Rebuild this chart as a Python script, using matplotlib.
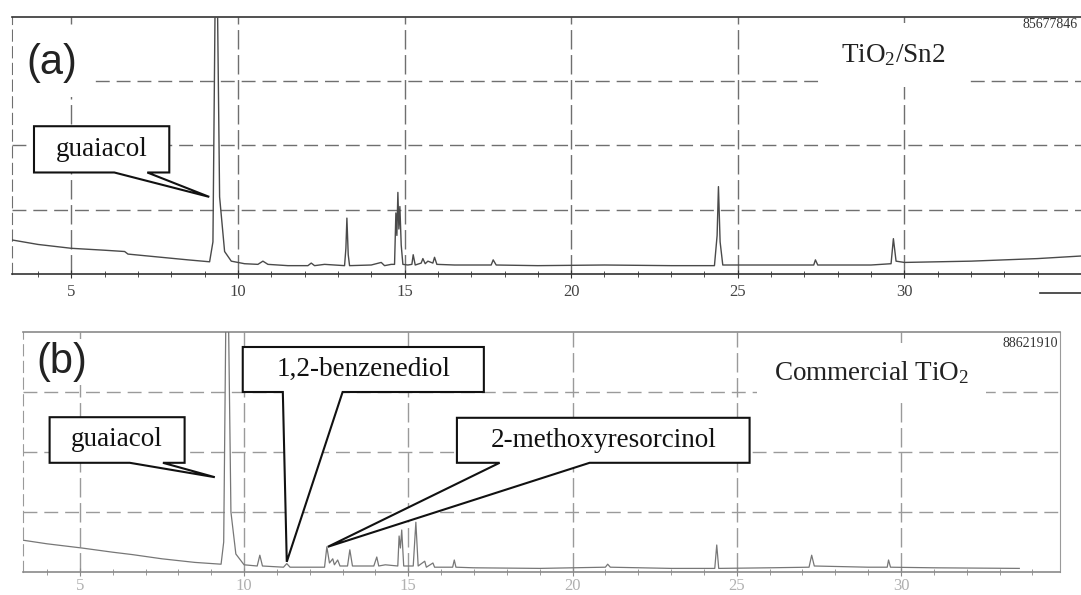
import matplotlib
matplotlib.use("Agg")
import matplotlib.pyplot as plt
from matplotlib.patches import Polygon
from matplotlib.lines import Line2D

plt.rcParams['font.family'] = ['Liberation Serif', 'DejaVu Serif']
plt.rcParams['mathtext.fontset'] = 'custom'
plt.rcParams['mathtext.rm'] = 'Liberation Serif'
plt.rcParams['mathtext.it'] = 'Liberation Serif:italic'

# retention time (min) / detector signal (arbitrary units)
time_a = [3.22, 4.0, 5.0, 6.0, 6.6, 6.7, 7.5, 8.5, 9.15, 9.25, 9.32, 9.38, 9.45, 9.6, 9.8,
          10.2, 10.6, 10.75, 10.9, 11.5, 12.1, 12.2, 12.3, 12.6, 13.2, 13.24, 13.27, 13.31,
          13.35, 14.0, 14.3, 14.4, 14.6, 14.7, 14.74, 14.77, 14.8, 14.83, 14.86, 14.9, 14.95,
          15.1, 15.22, 15.26, 15.32, 15.5, 15.55, 15.62, 15.7, 15.85, 15.9, 15.97, 16.5, 17.6,
          17.66, 17.75, 19.0, 21.0, 23.0, 24.3, 24.38, 24.42, 24.47, 24.55, 26.0, 27.28, 27.33,
          27.4, 29.0, 29.6, 29.67, 29.75, 30.0, 32.0, 34.0, 35.3]
signal_a = [0.53, 0.46, 0.40, 0.37, 0.35, 0.31, 0.27, 0.22, 0.19, 0.5, 4.5, 4.5, 1.2, 0.35, 0.2,
            0.16, 0.15, 0.2, 0.15, 0.13, 0.13, 0.17, 0.13, 0.15, 0.13, 0.4, 0.87, 0.3,
            0.13, 0.14, 0.18, 0.13, 0.15, 0.15, 0.95, 0.6, 1.27, 0.7, 1.05, 0.45, 0.15,
            0.14, 0.15, 0.3, 0.14, 0.17, 0.24, 0.16, 0.2, 0.17, 0.26, 0.15, 0.14, 0.14,
            0.22, 0.14, 0.13, 0.14, 0.13, 0.13, 0.6, 1.36, 0.5, 0.14, 0.14, 0.14, 0.22,
            0.14, 0.14, 0.16, 0.55, 0.2, 0.18, 0.2, 0.24, 0.28]

time_b = [3.27, 4.0, 5.06, 6.0, 6.6, 7.5, 8.5, 9.3, 9.38, 9.45, 9.52, 9.6, 9.75, 10.0, 10.4,
          10.48, 10.56, 11.2, 11.3, 11.4, 12.45, 12.52, 12.6, 12.7, 12.75, 12.85, 12.92, 13.15,
          13.22, 13.3, 13.95, 14.04, 14.1, 14.3, 14.68, 14.72, 14.76, 14.8, 14.86, 15.15, 15.23,
          15.3, 15.5, 15.55, 15.75, 15.8, 16.35, 16.4, 16.45, 17.0, 19.0, 21.0, 21.07, 21.15,
          23.0, 24.33, 24.39, 24.45, 26.0, 27.2, 27.28, 27.36, 29.0, 29.58, 29.62, 29.68, 31.0,
          33.6]
signal_b = [0.53, 0.47, 0.40, 0.33, 0.29, 0.22, 0.16, 0.13, 0.5, 4.5, 4.5, 1.0, 0.3, 0.12, 0.1,
            0.28, 0.1, 0.08, 0.14, 0.08, 0.08, 0.42, 0.15, 0.22, 0.12, 0.2, 0.1, 0.1,
            0.37, 0.1, 0.1, 0.25, 0.1, 0.12, 0.1, 0.6, 0.4, 0.7, 0.1, 0.1, 0.83,
            0.1, 0.18, 0.08, 0.15, 0.08, 0.08, 0.2, 0.08, 0.07, 0.06, 0.08, 0.13, 0.08,
            0.06, 0.06, 0.45, 0.06, 0.07, 0.08, 0.28, 0.1, 0.08, 0.08, 0.2, 0.08, 0.07,
            0.06]

tick_times = [5, 10, 15, 20, 25, 30]
grid_levels = [1, 2, 3]
sample_a = r'TiO$_2$/Sn2'
sample_b = r'Commercial TiO$_2$'
area_a = '85677846'
area_b = '88621910'

# callouts: label, box (x0, x1, y0, y1), wedge base (xa, xb), tip (x, y) in data units
callouts_a = [('guaiacol', (3.88, 7.94, 1.58, 2.30), (6.29, 7.28), (9.14, 1.20))]
callouts_b = [('guaiacol', (4.08, 8.19, 1.82, 2.58), (6.52, 7.53), (9.11, 1.58)),
              ('1,2-benzenediol', (9.96, 17.30, 3.0, 3.75), (11.18, 13.0), (11.30, 0.17)),
              ('2-methoxyresorcinol', (16.48, 25.39, 1.82, 2.57), (17.78, 20.52), (12.55, 0.42))]


def draw_callout(ax, label, box, base, tip):
    x0, x1, y0, y1 = box
    pts = [(x0, y1), (x1, y1), (x1, y0), (base[1], y0), tip, (base[0], y0), (x0, y0)]
    ax.add_patch(Polygon(pts, closed=True, facecolor='white', edgecolor='#111111',
                         lw=1.5, zorder=5, clip_on=False, joinstyle='miter'))
    ax.text((x0 + x1) / 2, (y0 + y1) / 2, label, ha='center', va='center',
            fontsize=19.5, color='#111111', zorder=6)


def setup_panel(ax, xlim, grid_col, lab_col, spine_col, pad):
    ax.set_xlim(*xlim)
    ax.set_ylim(0, 4.0)
    ax.set_yticks([])
    ax.set_xticks(tick_times)
    ax.set_xticks([t for t in range(4, 35) if t % 5], minor=True)
    ax.tick_params(axis='x', which='major', direction='inout', length=6, pad=pad,
                   labelsize=12, labelcolor=lab_col, color=spine_col)
    ax.tick_params(axis='x', which='minor', direction='inout', length=4, color=spine_col)
    for t in tick_times:
        ax.axvline(t, color=grid_col, lw=1.0, ls=(0, (14, 4)), zorder=1)
    for g in grid_levels:
        ax.axhline(g, color=grid_col, lw=1.0, ls=(0, (10, 5)), zorder=1)
    ax.spines['top'].set_color(spine_col)
    ax.spines['top'].set_linewidth(1.2)
    ax.spines['bottom'].set_color(spine_col)
    ax.spines['bottom'].set_linewidth(1.2)
    for s in ('left', 'right'):
        ax.spines[s].set_color(grid_col)
        ax.spines[s].set_linestyle((0, (10, 5)))


fig = plt.figure(figsize=(10.81, 5.95), dpi=100)

ax_a = fig.add_axes([12 / 1081, 1 - 274 / 595, 1069 / 1081, 257 / 595])
setup_panel(ax_a, (3.22, 35.3), '#6f6f6f', '#444444', '#333333', 4)
ax_a.spines['right'].set_visible(False)
ax_a.plot(time_a, signal_a, color='#4a4a4a', lw=1.0, zorder=3)
for c in callouts_a:
    draw_callout(ax_a, *c)
ax_a.text(0.0374, 0.821, '(a)', transform=ax_a.transAxes, ha='center', va='center',
          fontsize=30, family='Liberation Sans', color='#222222', zorder=4,
          bbox=dict(facecolor='white', edgecolor='none', pad=10))
ax_a.text(0.824, 0.852, sample_a, transform=ax_a.transAxes, ha='center', va='center',
          fontsize=19.5, color='#222222', zorder=4,
          bbox=dict(facecolor='white', edgecolor='none', pad=14))
ax_a.text(0.997, 0.969, area_a, transform=ax_a.transAxes, ha='right', va='center',
          fontsize=10, color='#333333', zorder=4)

ax_b = fig.add_axes([23 / 1081, 1 - 572 / 595, 1037 / 1081, 240 / 595])
setup_panel(ax_b, (3.27, 34.84), '#9a9a9a', '#b0b0b0', '#8a8a8a', 1)
ax_b.spines['right'].set_linestyle('-')
ax_b.plot(time_b, signal_b, color='#777777', lw=0.9, zorder=3)
for c in callouts_b:
    draw_callout(ax_b, *c)
ax_b.text(0.0376, 0.875, '(b)', transform=ax_b.transAxes, ha='center', va='center',
          fontsize=30, family='Liberation Sans', color='#222222', zorder=4,
          bbox=dict(facecolor='white', edgecolor='none', pad=2))
ax_b.text(0.818, 0.829, sample_b, transform=ax_b.transAxes, ha='center', va='center',
          fontsize=19.5, color='#222222', zorder=4,
          bbox=dict(facecolor='white', edgecolor='none', pad=12))
ax_b.text(0.998, 0.954, area_b, transform=ax_b.transAxes, ha='right', va='center',
          fontsize=10, color='#333333', zorder=4)

# small scale mark at the lower right of panel (a)
fig.add_artist(Line2D([1040 / 1081, 1.0], [1 - 293 / 595, 1 - 293 / 595],
                      color='#333333', lw=1.2))

fig.savefig('out.png', dpi=100, facecolor='white')
